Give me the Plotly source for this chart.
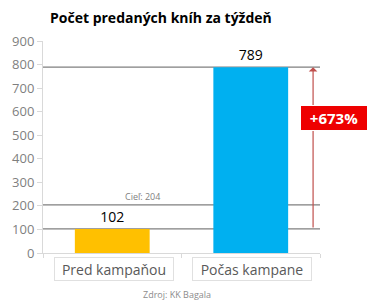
import plotly.graph_objects as go

categories = ["Pred kampaňou", "Počas kampane"]
values = [102, 789]
bar_colors = ["#FFC000", "#00B0F0"]
target_value = 204
target_label = "Cieľ: 204"
growth_label = "+673%"
y_ticks = [0, 100, 200, 300, 400, 500, 600, 700, 800, 900]
title_text = "Počet predaných kníh za týždeň"
source_text = "Zdroj: KK Bagala"

FONT = "Open Sans"
xs = [0, 1]

fig = go.Figure()
fig.add_trace(go.Bar(
    x=xs, y=values, marker=dict(color=bar_colors, line=dict(width=0)),
    width=0.54, text=[str(v) for v in values], textposition="outside",
    textfont=dict(size=14, color="#000000", family=FONT), cliponaxis=False,
    hoverinfo="skip",
))

line_right = 1.593
for v in [values[0], target_value, values[1]]:
    fig.add_shape(type="line", xref="x", yref="y", x0=-0.5, x1=line_right, y0=v, y1=v,
                  line=dict(color="#7f7f7f", width=1.3), layer="below")

fig.add_annotation(x=0.22, y=target_value, xref="x", yref="y", text=target_label,
                   showarrow=False, yanchor="bottom", yshift=0,
                   font=dict(size=9, color="#7f7f7f", family=FONT))

# arrow
fig.add_annotation(x=1.45, y=values[1], ax=1.45, ay=values[0], xref="x", yref="y",
                   axref="x", ayref="y", text="", showarrow=True, arrowhead=1,
                   arrowsize=1.2, arrowwidth=1.2, arrowcolor="#C0504D")

fig.add_annotation(x=1.05, y=573, xref="paper", yref="y", text="<b>" + growth_label + "</b>",
                   showarrow=False, bgcolor="#EE0000", bordercolor="#ffffff",
                   xanchor="center", yanchor="middle",
                   borderwidth=1, borderpad=2, width=62,
                   font=dict(size=15, color="#ffffff", family=FONT))

# category labels in boxes
for xi, c in zip(xs, categories):
    fig.add_annotation(x=xi + 0.01, y=0, xref="x", yref="paper", text=c, showarrow=False,
                       xanchor="center", yanchor="top", yshift=-4, width=114, height=18,
                       bordercolor="#e0e0e0", borderwidth=1, borderpad=2,
                       font=dict(size=14, color="#595959", family=FONT))

fig.add_annotation(x=0.5, y=0, xref="paper", yref="paper", text=source_text,
                   showarrow=False, xanchor="center", yanchor="top", yshift=-33,
                   xshift=-5, font=dict(size=9, color="#8c8c8c", family=FONT))

fig.update_layout(
    width=372, height=303,
    margin=dict(l=40, r=52, t=41, b=50),
    paper_bgcolor="white", plot_bgcolor="white",
    showlegend=False,
    title=dict(text="<b>" + title_text + "</b>", x=50 / 372, xanchor="left",
               y=1 - 18 / 303, yanchor="middle",
               font=dict(size=14, color="#000000", family=FONT)),
    xaxis=dict(range=[-0.5, 1.5], showticklabels=False, tickvals=[-0.5, 0.5, 1.5],
               ticks="outside", ticklen=4, tickcolor="#d9d9d9", showgrid=False,
               showline=True, linecolor="#d9d9d9", zeroline=False, fixedrange=True),
    yaxis=dict(range=[0, 900], tickvals=y_ticks, ticks="outside", ticklen=5,
               tickcolor="#d9d9d9", showline=True, linecolor="#d9d9d9",
               showgrid=False, zeroline=False,
               tickfont=dict(size=13, color="#7f7f7f", family=FONT)),
)

fig.write_html("out.html")
